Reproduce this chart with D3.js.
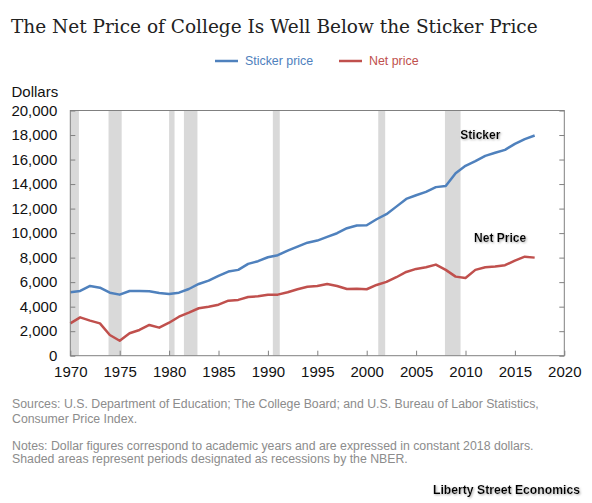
<!DOCTYPE html>
<html>
<head>
<meta charset="utf-8">
<script src="https://cdn.jsdelivr.net/npm/d3@7"></script>
<style>
  html, body { margin: 0; padding: 0; background: #fff; }
  svg { display: block; }
</style>
</head>
<body>
<div id="chart"></div>
<script>
// Data (dollars, constant 2018)
const years = d3.range(1970, 2018);
const stickerPrice = [
  5180, 5280, 5690, 5550, 5140, 4980, 5280, 5280, 5260, 5120,
  5040, 5140, 5440, 5850, 6120, 6510, 6860, 7000, 7490, 7710,
  8030, 8200, 8570, 8900, 9220, 9390, 9690, 9990, 10400, 10620,
  10640, 11130, 11540, 12160, 12790, 13090, 13360, 13750, 13850, 14890,
  15490, 15870, 16300, 16550, 16790, 17280, 17670, 17960
];
const netPrice = [
  2640, 3130, 2860, 2640, 1690, 1220, 1830, 2100, 2510, 2290,
  2690, 3180, 3510, 3870, 4000, 4160, 4490, 4550, 4790, 4850,
  4980, 4980, 5180, 5420, 5630, 5690, 5850, 5690, 5440, 5470,
  5420, 5770, 6020, 6400, 6830, 7080, 7210, 7430, 7000, 6450,
  6340, 7000, 7210, 7270, 7380, 7760, 8080, 8000
];
// NBER recessions as fractional years [start, end]
const recessions = [
  [1969.92, 1970.87], [1973.87, 1975.2], [1980.0, 1980.55], [1981.5, 1982.87],
  [1990.5, 1991.2], [2001.17, 2001.87], [2007.92, 2009.5]
];
const xTicks = d3.range(1970, 2021, 5);
const yTicks = d3.range(0, 20001, 2000);

const width = 592, height = 503;
const margin = { top: 110.5, left: 70.3, right: 27.7, bottom: 147.3 };
const innerW = width - margin.left - margin.right;
const innerH = height - margin.top - margin.bottom;

const blue = "#4f81bd", red = "#c0504d", axisGray = "#808080";
const sans = "'Liberation Sans', Arial, sans-serif";

const svg = d3.select("#chart").append("svg")
  .attr("width", width)
  .attr("height", height);

const defs = svg.append("defs");
defs.append("clipPath").attr("id", "plotClip")
  .append("rect").attr("width", innerW).attr("height", innerH);
const shadow = defs.append("filter").attr("id", "shadow")
  .attr("x", "-20%").attr("y", "-40%").attr("width", "140%").attr("height", "180%");
shadow.append("feDropShadow")
  .attr("dx", 1).attr("dy", 1).attr("stdDeviation", 0.8)
  .attr("flood-color", "#999").attr("flood-opacity", 0.8);

const x = d3.scaleLinear().domain([1970, 2020]).range([0, innerW]);
const y = d3.scaleLinear().domain([0, 20000]).range([innerH, 0]);

// Title - scaled to the reference width
const title = svg.append("text")
  .attr("x", 11).attr("y", 33.3)
  .style("font-family", "'DejaVu Serif', Georgia, serif")
  .style("font-size", "18px")
  .style("fill", "#222")
  .text("The Net Price of College Is Well Below the Sticker Price");
const tw = title.node().getComputedTextLength();
title.style("font-size", (18 * 527 / tw).toFixed(2) + "px");

// Legend
const legendItems = [
  { label: "Sticker price", color: blue, x: 215 },
  { label: "Net price", color: red, x: 339 }
];
const legend = svg.append("g").attr("transform", "translate(0,61)");
legendItems.forEach(d => {
  legend.append("line")
    .attr("x1", d.x).attr("x2", d.x + 23)
    .attr("stroke", d.color).attr("stroke-width", 2.5);
  legend.append("text")
    .attr("x", d.x + 30).attr("dy", "0.35em")
    .style("font-family", sans).style("font-size", "12.4px")
    .style("fill", d.color)
    .text(d.label);
});

// Y axis title
svg.append("text")
  .attr("x", 11.5).attr("y", 97)
  .style("font-family", sans).style("font-size", "15px")
  .style("fill", "#111")
  .text("Dollars");

const g = svg.append("g").attr("transform", `translate(${margin.left},${margin.top})`);

// Recession shading
g.append("g").attr("clip-path", "url(#plotClip)")
  .selectAll("rect").data(recessions).enter().append("rect")
  .attr("x", d => x(d[0]))
  .attr("width", d => x(d[1]) - x(d[0]))
  .attr("y", 0).attr("height", innerH)
  .attr("fill", "#d9d9d9");

// Lines
const line = d3.line().x((d, i) => x(years[i])).y(d => y(d));
[[stickerPrice, blue], [netPrice, red]].forEach(([series, color]) => {
  g.append("path")
    .datum(series)
    .attr("fill", "none")
    .attr("stroke", color)
    .attr("stroke-width", 2.5)
    .attr("stroke-linejoin", "round")
    .attr("d", line);
});

// Frame
g.append("rect")
  .attr("width", innerW).attr("height", innerH)
  .attr("fill", "none").attr("stroke", axisGray).attr("stroke-width", 1);

// Axes
const styleAxis = sel => {
  sel.select(".domain").remove();
  sel.selectAll(".tick line").attr("stroke", axisGray);
  sel.selectAll(".tick text")
    .style("font-family", sans).style("font-size", "15px").style("fill", "#111");
};

g.append("g")
  .call(d3.axisLeft(y).tickValues(yTicks).tickSize(-5).tickPadding(13).tickFormat(d3.format(",")))
  .call(styleAxis);

g.append("g").attr("transform", `translate(${innerW},0)`)
  .call(d3.axisRight(y).tickValues(yTicks).tickSize(-5).tickFormat(""))
  .call(styleAxis);

g.append("g").attr("transform", `translate(0,${innerH})`)
  .call(d3.axisBottom(x).tickValues(xTicks).tickSize(-5).tickPadding(11).tickFormat(d3.format("d")))
  .call(styleAxis);

// Series labels
const seriesLabels = [
  { label: "Sticker", year: 2011.5, value: 18000 },
  { label: "Net Price", year: 2013.5, value: 9630 }
];
g.selectAll(".series-label").data(seriesLabels).enter().append("text")
  .attr("class", "series-label")
  .attr("x", d => x(d.year)).attr("y", d => y(d.value))
  .attr("text-anchor", "middle").attr("dy", "0.35em")
  .attr("filter", "url(#shadow)")
  .style("font-family", sans).style("font-size", "12px").style("font-weight", "bold")
  .style("fill", "#000")
  .text(d => d.label);

// Footer
const footer = [
  { text: "Sources: U.S. Department of Education; The College Board; and U.S. Bureau of Labor Statistics,", y: 408.3 },
  { text: "Consumer Price Index.", y: 422.7 },
  { text: "Notes: Dollar figures correspond to academic years and are expressed in constant 2018 dollars.", y: 450 },
  { text: "Shaded areas represent periods designated as recessions by the NBER.", y: 463.3 }
];
svg.selectAll(".footer").data(footer).enter().append("text")
  .attr("class", "footer")
  .attr("x", 12).attr("y", d => d.y)
  .style("font-family", sans).style("font-size", "12.3px")
  .style("fill", "#8c8c8c")
  .text(d => d.text);

svg.append("text")
  .attr("x", 433).attr("y", 494)
  .attr("filter", "url(#shadow)")
  .style("font-family", sans)
  .style("font-size", "12.2px").style("font-weight", "bold")
  .style("fill", "#000")
  .text("Liberty Street Economics");
</script>
</body>
</html>
